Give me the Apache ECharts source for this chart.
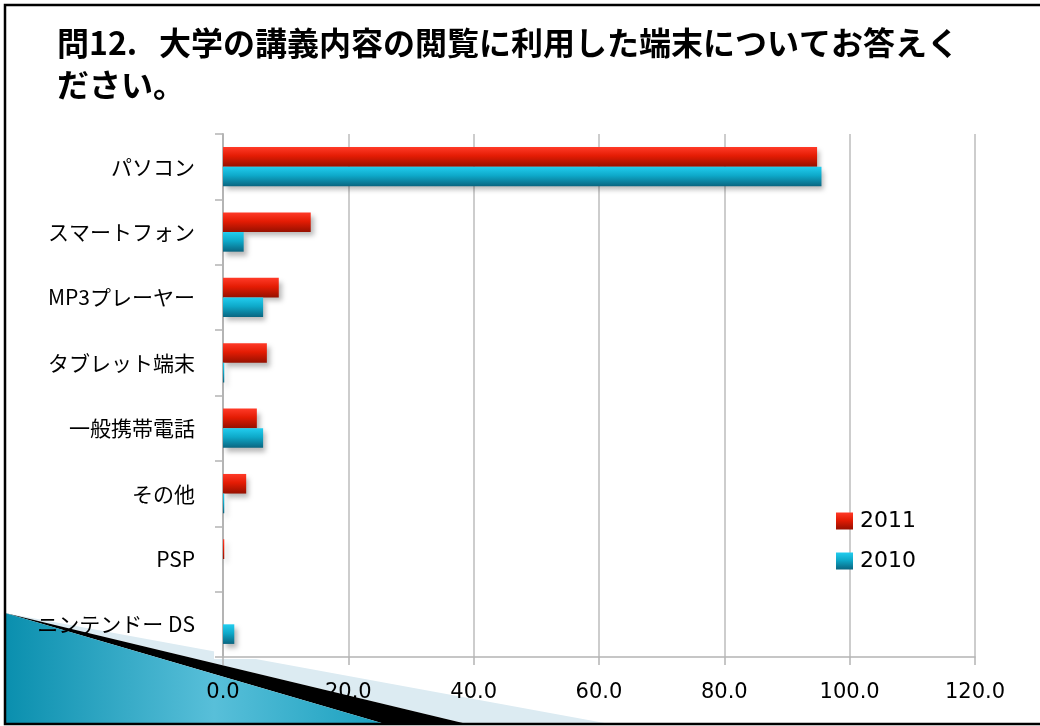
<!DOCTYPE html>
<html>
<head>
<meta charset="utf-8">
<script src="https://cdn.jsdelivr.net/npm/echarts@6/dist/echarts.min.js"></script>
<style>
html,body{margin:0;padding:0;background:#fff;}
#chart{width:1040px;height:726px;}
</style>
</head>
<body>
<div id="chart"></div>
<script>
const titleText = '問12.   大学の講義内容の閲覧に利用した端末についてお答えく\nださい。';
const categories = ['パソコン', 'スマートフォン', 'MP3プレーヤー', 'タブレット端末', '一般携帯電話', 'その他', 'PSP', 'ニンテンドー DS'];
const seriesNames = ['2011', '2010'];
const values2011 = [94.8, 14.0, 8.9, 7.0, 5.4, 3.7, 0.2, 0];
const values2010 = [95.5, 3.3, 6.4, 0.2, 6.4, 0.2, 0, 1.8];
const xTicks = {min: 0, max: 120, interval: 20};

const chart = echarts.init(document.getElementById('chart'), null, {renderer: 'canvas'});
const lg = (stops) => new echarts.graphic.LinearGradient(0, 0, 0, 1, stops);
const redGrad = lg([{offset: 0, color: '#ff3a28'}, {offset: 0.45, color: '#e41c04'}, {offset: 1, color: '#961000'}]);
const cyanGrad = lg([{offset: 0, color: '#22cdef'}, {offset: 0.45, color: '#0ea9c9'}, {offset: 1, color: '#0a6580'}]);
const latin = '"DejaVu Sans", "Noto Sans CJK JP", sans-serif';
const cjk = '"Noto Sans CJK JP", "DejaVu Sans", sans-serif';
const barShadow = {shadowColor: 'rgba(0,0,0,0.28)', shadowBlur: 5, shadowOffsetX: 3, shadowOffsetY: 4};

chart.setOption({
  backgroundColor: '#ffffff',
  animation: false,
  title: {
    text: titleText,
    left: 52,
    top: 17,
    textStyle: {fontFamily: cjk, fontSize: 32, fontWeight: 'bold', color: '#000', lineHeight: 42}
  },
  graphic: [
    {type: 'polygon', z: -20, silent: true, shape: {points: [[5, 613], [610, 724], [467, 724]]}, style: {fill: '#dcebf2'}},
    {type: 'polygon', z: -19, silent: true, shape: {points: [[5, 613], [467, 724], [385, 724]]}, style: {fill: '#000'}},
    {type: 'polygon', z: -18, silent: true, shape: {points: [[5, 613], [385, 724], [5, 724]]},
      style: {fill: new echarts.graphic.LinearGradient(0, 0, 1, 0, [{offset: 0, color: '#0a8fae'}, {offset: 0.55, color: '#58bfd9'}, {offset: 1, color: '#1aa0bf'}])}},
    {type: 'rect', z: -10, silent: true, shape: {x: 214, y: 128, width: 770, height: 531}, style: {fill: '#fff'}},
    {type: 'rect', z: 50, silent: true, shape: {x: 5, y: 5, width: 1045, height: 719}, style: {fill: 'none', stroke: '#000', lineWidth: 2.5}}
  ],
  legend: {
    orient: 'vertical',
    left: 831,
    top: 505,
    itemWidth: 17,
    itemHeight: 17,
    itemGap: 18,
    icon: 'rect',
    data: seriesNames,
    textStyle: {fontFamily: latin, fontSize: 22, color: '#000', lineHeight: 17, padding: [0, 0, 0, 2]}
  },
  grid: {left: 223, right: 65, top: 134, bottom: 69, containLabel: false},
  xAxis: {
    type: 'value',
    min: xTicks.min, max: xTicks.max, interval: xTicks.interval,
    axisLine: {show: true, lineStyle: {color: '#b4b4b4', width: 1.5}},
    axisTick: {show: true, length: 8, lineStyle: {color: '#b4b4b4', width: 1.5}},
    splitLine: {show: true, lineStyle: {color: '#bdbdbd', width: 1.5}},
    axisLabel: {fontFamily: latin, fontSize: 21, color: '#000', margin: 25, formatter: v => v.toFixed(1)}
  },
  yAxis: {
    type: 'category',
    inverse: true,
    data: categories,
    axisLine: {show: true, lineStyle: {color: '#b4b4b4', width: 2}},
    axisTick: {show: true, length: 8, lineStyle: {color: '#b4b4b4', width: 1.5}},
    axisLabel: {fontFamily: cjk, fontSize: 21, color: '#000', margin: 28}
  },
  series: [
    {name: seriesNames[0], type: 'bar', data: values2011, barWidth: '30%', barGap: '0%',
      itemStyle: Object.assign({color: redGrad}, barShadow)},
    {name: seriesNames[1], type: 'bar', data: values2010, barWidth: '30%', barGap: '0%',
      itemStyle: Object.assign({color: cyanGrad}, barShadow)}
  ]
});
</script>
</body>
</html>
